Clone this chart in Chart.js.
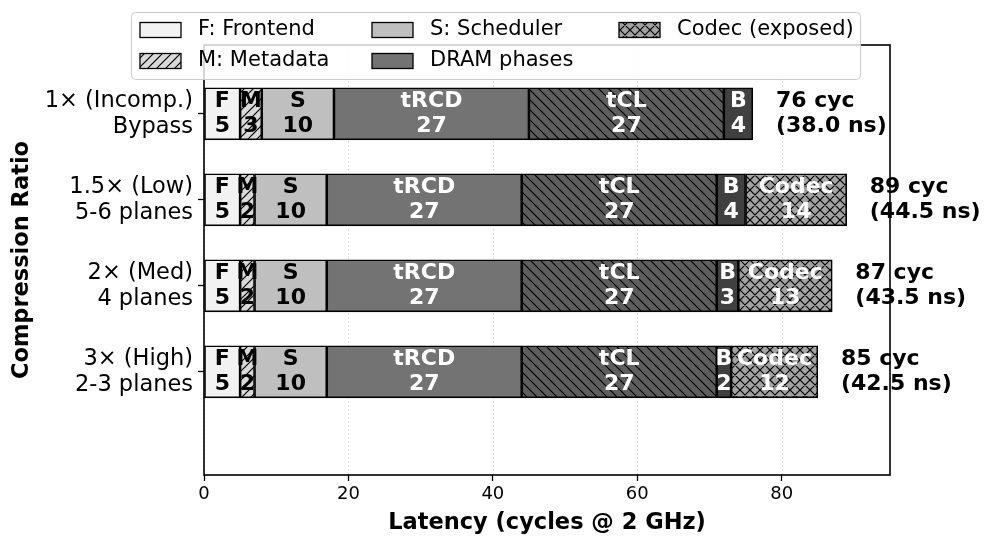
<!DOCTYPE html>
<html lang="en">
<head>
<meta charset="UTF-8">
<title>Latency breakdown by compression ratio</title>
<script src="https://cdn.jsdelivr.net/npm/chart.js"></script>
<style>
  html, body { margin: 0; padding: 0; background: #fff; }
  #wrap { width: 996px; height: 549px; }
</style>
</head>
<body>
<div id="wrap"><canvas id="latencyChart" width="996" height="549"></canvas></div>
<script>
  // data (cycles @ 2 GHz)
  const categoryLabels = [
    ['1\u00d7 (Incomp.)', 'Bypass'],
    ['1.5\u00d7 (Low)', '5-6 planes'],
    ['2\u00d7 (Med)', '4 planes'],
    ['3\u00d7 (High)', '2-3 planes']
  ];
  const frontend  = [5, 5, 5, 5];
  const metadata  = [3, 2, 2, 2];
  const scheduler = [10, 10, 10, 10];
  const tRCD      = [27, 27, 27, 27];
  const tCL       = [27, 27, 27, 27];
  const burst     = [4, 4, 3, 2];
  const codec     = [0, 14, 13, 12];
  const xTicks    = [0, 20, 40, 60, 80];

  const FONT = "'DejaVu Sans', sans-serif";
  const canvas = document.getElementById('latencyChart');
  const ctx = canvas.getContext('2d');

  function hatch(bg, kind, size) {
    const c = document.createElement('canvas');
    c.width = c.height = size;
    const g = c.getContext('2d');
    g.fillStyle = bg;
    g.fillRect(0, 0, size, size);
    g.strokeStyle = '#000';
    g.lineWidth = 1.2;
    g.beginPath();
    if (kind === '/' || kind === 'x') {
      g.moveTo(-1, size + 1); g.lineTo(size + 1, -1);
      g.moveTo(-1, 1); g.lineTo(1, -1);
      g.moveTo(size - 1, size + 1); g.lineTo(size + 1, size - 1);
    }
    if (kind === '\\' || kind === 'x') {
      g.moveTo(-1, -1); g.lineTo(size + 1, size + 1);
      g.moveTo(size - 1, -1); g.lineTo(size + 1, 1);
      g.moveTo(-1, size - 1); g.lineTo(1, size + 1);
    }
    g.stroke();
    return ctx.createPattern(c, 'repeat');
  }

  const fills = {
    F: '#f2f2f2',
    M: hatch('#d9d9d9', '/', 9),
    S: '#bfbfbf',
    tRCD: '#737373',
    tCL: hatch('#5e5e5e', '\\', 10),
    B: '#404040',
    Codec: hatch('#a3a3a3', 'x', 10)
  };

  const segments = [
    { key: 'F', data: frontend, text: '#000' },
    { key: 'M', data: metadata, text: '#000' },
    { key: 'S', data: scheduler, text: '#000' },
    { key: 'tRCD', data: tRCD, text: '#fff' },
    { key: 'tCL', data: tCL, text: '#fff' },
    { key: 'B', data: burst, text: '#fff' },
    { key: 'Codec', data: codec, text: '#fff' }
  ];

  const totals = categoryLabels.map((_, i) => segments.reduce((s, seg) => s + seg.data[i], 0));

  const legendItems = [
    { name: 'F: Frontend', fill: fills.F, col: 0, row: 0 },
    { name: 'M: Metadata', fill: fills.M, col: 0, row: 1 },
    { name: 'S: Scheduler', fill: fills.S, col: 1, row: 0 },
    { name: 'DRAM phases', fill: fills.tRCD, col: 1, row: 1 },
    { name: 'Codec (exposed)', fill: fills.Codec, col: 2, row: 0 }
  ];

  const gridPlugin = {
    id: 'grid',
    beforeDatasetsDraw(chart) {
      const { ctx, chartArea, scales: { x } } = chart;
      ctx.save();
      ctx.strokeStyle = '#c8c8c8';
      ctx.lineWidth = 0.8;
      ctx.setLineDash([1.5, 2.5]);
      xTicks.forEach(v => {
        const px = Math.round(x.getPixelForValue(v)) + 0.5;
        ctx.beginPath();
        ctx.moveTo(px, chartArea.top);
        ctx.lineTo(px, chartArea.bottom);
        ctx.stroke();
      });
      ctx.restore();
    }
  };

  const labelPlugin = {
    id: 'barLabels',
    afterDatasetsDraw(chart) {
      const { ctx, chartArea, scales: { x } } = chart;
      ctx.save();
      ctx.font = 'bold 22px ' + FONT;
      ctx.textAlign = 'center';
      ctx.textBaseline = 'middle';
      segments.forEach((seg, di) => {
        const meta = chart.getDatasetMeta(di);
        meta.data.forEach((el, i) => {
          const v = seg.data[i];
          if (!v) return;
          const cx = (el.x + el.base) / 2;
          ctx.fillStyle = seg.text;
          ctx.fillText(seg.key, cx, el.y - 12.5);
          ctx.fillText(String(v), cx, el.y + 12.5);
        });
      });
      // totals to the right of each bar
      ctx.fillStyle = '#000';
      ctx.textAlign = 'left';
      const meta = chart.getDatasetMeta(0);
      totals.forEach((t, i) => {
        const px = x.getPixelForValue(t + 3.2);
        const y = meta.data[i].y;
        ctx.fillText(t + ' cyc', px, y - 12.5);
        ctx.fillText('(' + (t / 2).toFixed(1) + ' ns)', px, y + 12.5);
      });
      // axes frame
      ctx.strokeStyle = '#000';
      ctx.lineWidth = 1.6;
      ctx.strokeRect(chartArea.left, chartArea.top, chartArea.right - chartArea.left, chartArea.bottom - chartArea.top);
      ctx.restore();
    }
  };

  const legendPlugin = {
    id: 'boxLegend',
    afterDraw(chart) {
      const { ctx } = chart;
      ctx.save();
      ctx.beginPath();
      ctx.roundRect(131.5, 12.5, 729, 67, 4);
      ctx.fillStyle = 'rgba(255,255,255,0.8)';
      ctx.fill();
      ctx.strokeStyle = '#cccccc';
      ctx.lineWidth = 1;
      ctx.stroke();
      const colX = [140, 372, 619];
      const rowY = [30, 61];
      ctx.font = '21px ' + FONT;
      ctx.textBaseline = 'middle';
      ctx.textAlign = 'left';
      legendItems.forEach(it => {
        const px = colX[it.col], py = rowY[it.row];
        ctx.fillStyle = it.fill;
        ctx.fillRect(px, py - 7.5, 41, 15);
        ctx.strokeStyle = '#000';
        ctx.lineWidth = 1.3;
        ctx.strokeRect(px, py - 7.5, 41, 15);
        ctx.fillStyle = '#000';
        ctx.fillText(it.name, px + 58, py);
      });
      ctx.restore();
    }
  };

  new Chart(canvas, {
    type: 'bar',
    data: {
      datasets: segments.map(seg => ({
        label: seg.key,
        data: seg.data.map((v, i) => ({ x: v, y: i })),
        backgroundColor: fills[seg.key],
        borderColor: '#000',
        borderWidth: 1.6,
        borderSkipped: false,
        barThickness: 52
      }))
    },
    options: {
      indexAxis: 'y',
      responsive: false,
      animation: false,
      layout: { padding: { top: 45, right: 106, left: 0, bottom: 0 } },
      plugins: { legend: { display: false }, tooltip: { enabled: false } },
      scales: {
        x: {
          type: 'linear',
          stacked: true,
          min: 0,
          max: 95,
          afterBuildTicks: s => { s.ticks = xTicks.map(v => ({ value: v })); },
          afterFit: s => { s.height = 74; },
          grid: { drawOnChartArea: false, drawTicks: true, tickLength: 6, tickColor: '#000', tickWidth: 1.3 },
          border: { display: false },
          ticks: { color: '#000', font: { family: FONT, size: 18 }, padding: 3, maxRotation: 0 },
          title: { display: true, text: 'Latency (cycles @ 2 GHz)', color: '#000', font: { family: FONT, size: 22.5, weight: 'bold' }, padding: { top: 0, bottom: 12 } }
        },
        y: {
          type: 'linear',
          stacked: true,
          reverse: true,
          offset: false,
          min: -0.8,
          max: 4.2,
          afterBuildTicks: s => { s.ticks = categoryLabels.map((_, i) => ({ value: i })); },
          afterFit: s => { s.width = 204; },
          grid: { offset: false, drawOnChartArea: false, drawTicks: true, tickLength: 6, tickColor: '#000', tickWidth: 1.3 },
          border: { display: false },
          ticks: { color: '#000', font: { family: FONT, size: 22.5, lineHeight: 1.15 }, padding: 5, callback: v => categoryLabels[v] },
          title: { display: true, text: 'Compression Ratio', color: '#000', font: { family: FONT, size: 22.5, weight: 'bold' }, padding: { top: 9, bottom: 0 } }
        }
      }
    },
    plugins: [gridPlugin, labelPlugin, legendPlugin]
  });
</script>
</body>
</html>
